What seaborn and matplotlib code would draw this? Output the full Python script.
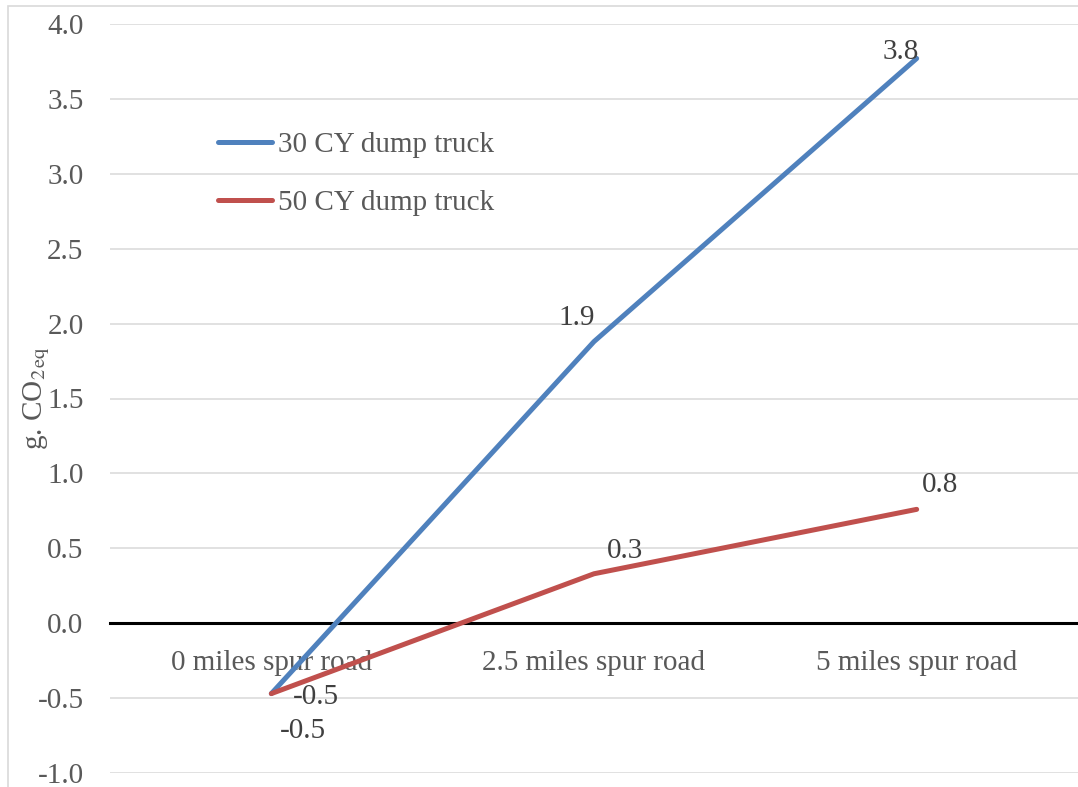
import numpy as np
import pandas as pd
import seaborn as sns
import matplotlib.pyplot as plt
from matplotlib.patches import Rectangle

# values
categories = ['0 miles spur road', '2.5 miles spur road', '5 miles spur road']
truck_30 = [-0.47, 1.88, 3.77]
truck_50 = [-0.47, 0.33, 0.76]
series_names = ['30 CY dump truck', '50 CY dump truck']
y_ticks = [-1.0, -0.5, 0.0, 0.5, 1.0, 1.5, 2.0, 2.5, 3.0, 3.5, 4.0]

# label offsets (points) for the data labels, as placed on the original
offsets_30 = [(23, -26.6), (-12.2, 16.9), (-11.5, 5)]
offsets_50 = [(32.4, -2.2), (22, 16.2), (16.5, 17.3)]

df = pd.DataFrame({
    'road': categories * 2,
    'value': truck_30 + truck_50,
    'truck': [series_names[0]] * 3 + [series_names[1]] * 3,
})

sns.set_style('white')
plt.rcParams['font.family'] = ['Liberation Serif', 'DejaVu Serif']
plt.rcParams['mathtext.fontset'] = 'stix'
plt.rcParams['axes.unicode_minus'] = False

fig = plt.figure(figsize=(10.78, 7.87), dpi=100)
ax = fig.add_axes([110 / 1078, 14 / 787, 968 / 1078, 749 / 787])

palette = {series_names[0]: '#4F81BD', series_names[1]: '#C0504D'}
sns.lineplot(data=df, x='road', y='value', hue='truck', palette=palette,
             sort=False, linewidth=3.6, ax=ax)
for ln in ax.lines:
    ln.set_solid_capstyle('round')
    ln.set_solid_joinstyle('round')

# data labels
for vals, offs in [(truck_30, offsets_30), (truck_50, offsets_50)]:
    for i, (v, off) in enumerate(zip(vals, offs)):
        ax.annotate(f'{v:.1f}', (i, v), xytext=off, textcoords='offset points',
                    ha='center', va='center', fontsize=21, color='#404040')

ax.set_xlim(-0.5, 2.5)
ax.set_ylim(-1, 4)
ax.set_yticks(y_ticks)
ax.set_yticklabels([f'{t:.1f}' for t in y_ticks])
ax.yaxis.grid(True, color='#D9D9D9', linewidth=1.1)
ax.xaxis.grid(False)
ax.set_axisbelow(True)

for s in ['left', 'top', 'right']:
    ax.spines[s].set_visible(False)
ax.spines['bottom'].set_position(('data', 0))
ax.spines['bottom'].set_color('black')
ax.spines['bottom'].set_linewidth(2.2)
ax.spines['bottom'].set_zorder(1.5)

ax.tick_params(axis='y', length=0, pad=19, labelsize=21, labelcolor='#595959')
ax.tick_params(axis='x', length=0, pad=19, labelsize=21, labelcolor='#595959')
ax.set_xlabel('')
ax.set_ylabel('')
ax.text(-0.0755, 0.5, r'g. CO$_{2\,\mathrm{eq}}$', transform=ax.transAxes,
        rotation=90, ha='center', va='center', fontsize=21, color='#595959')

handles, labels = ax.get_legend_handles_labels()
leg = ax.legend(handles, labels, loc='center left', bbox_to_anchor=(0.1116, 0.7997),
                frameon=False, fontsize=21, handlelength=1.85, handletextpad=0.2,
                labelspacing=1.09, borderpad=0, borderaxespad=0)
for t in leg.get_texts():
    t.set_color('#595959')
for h in leg.get_lines():
    h.set_linewidth(3.6)
    h.set_solid_capstyle('round')

# chart area border
fig.add_artist(Rectangle((8 / 1078, -0.5), 2, 0.5 + 1 - 6 / 787,
                         transform=fig.transFigure, fill=False,
                         edgecolor='#D9D9D9', linewidth=1.2))

fig.savefig('out.png', dpi=100)
